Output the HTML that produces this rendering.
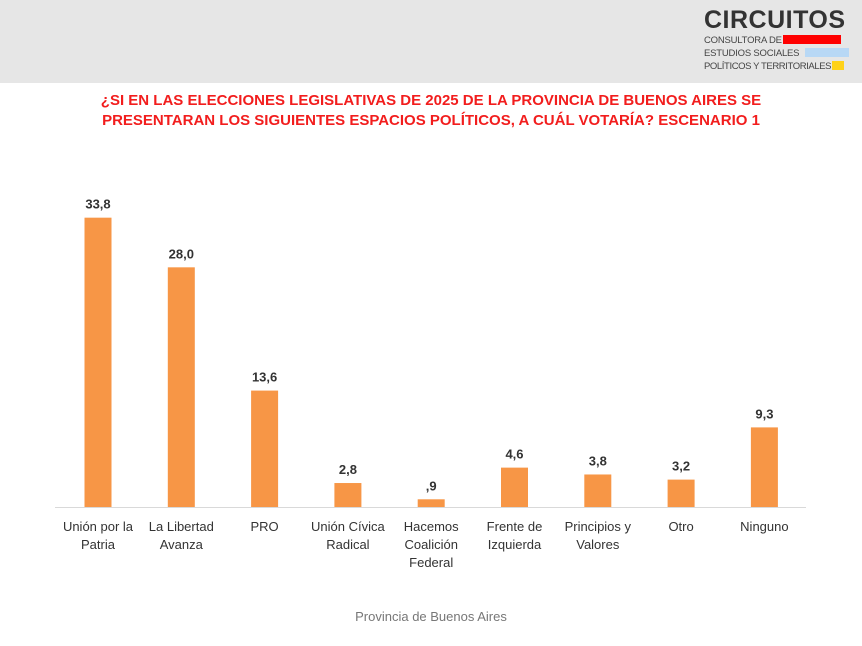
<!DOCTYPE html>
<html><head><meta charset="utf-8"><style>
body{margin:0;width:862px;height:646px;background:#fff;font-family:"Liberation Sans",sans-serif;position:relative;overflow:hidden}
.hdr{position:absolute;left:0;top:0;width:862px;height:83px;background:#e6e6e6}
.title{position:absolute;left:0;width:862px;top:91px;text-align:center;color:#f21d1d;font-size:15px;font-weight:bold;line-height:20px}
</style></head><body>
<div class="hdr">
 <div style="position:absolute;left:704px;top:6px;width:150px;height:72px">
  <div style="font-weight:bold;font-size:25px;color:#333;letter-spacing:0.5px;line-height:28px">CIRCUITOS</div>
  <div style="font-size:9.5px;color:#444;line-height:13px;letter-spacing:-0.2px">CONSULTORA DE<span style="display:inline-block;width:58px;height:9px;background:#f00;margin-left:1px;vertical-align:-1px"></span></div>
  <div style="font-size:9.5px;color:#444;line-height:13px;letter-spacing:-0.2px">ESTUDIOS SOCIALES<span style="display:inline-block;width:44px;height:9px;background:#b8d8f5;margin-left:6px;vertical-align:-1px"></span></div>
  <div style="font-size:9.5px;color:#444;line-height:13px;letter-spacing:-0.4px">POLÍTICOS Y TERRITORIALES<span style="display:inline-block;width:12px;height:9px;background:#ffd21a;margin-left:1px;vertical-align:-1px"></span></div>
 </div>
</div>
<div class="title">¿SI EN LAS ELECCIONES LEGISLATIVAS DE 2025 DE LA PROVINCIA DE BUENOS AIRES SE<br>PRESENTARAN LOS SIGUIENTES ESPACIOS POLÍTICOS, A CUÁL VOTARÍA? ESCENARIO 1</div>
<svg id="chart" width="862" height="646" style="position:absolute;left:0;top:0"></svg>
<script>
const categories=[["Unión por la","Patria"],["La Libertad","Avanza"],["PRO"],["Unión Cívica","Radical"],["Hacemos","Coalición","Federal"],["Frente de","Izquierda"],["Principios y","Valores"],["Otro"],["Ninguno"]];
const values=[33.8,28.0,13.6,2.8,0.9,4.6,3.8,3.2,9.3];
const valueLabels=["33,8","28,0","13,6","2,8",",9","4,6","3,8","3,2","9,3"];
const svg=document.getElementById('chart');const NS="http://www.w3.org/2000/svg";
const base=507,scale=8.56,x0=98,step=83.3,bw=27;
const yPos=v=>base-v*scale;const xPos=i=>x0+i*step;
function mk(t,a){const e=document.createElementNS(NS,t);for(const k in a)e.setAttribute(k,a[k]);svg.appendChild(e);return e;}
const ax=mk('line',{x1:55,x2:806,y1:base+0.5,y2:base+0.5,stroke:'#d9d9d9','stroke-width':1});


values.forEach((v,i)=>{
 const b=mk('rect',{x:xPos(i)-bw/2,y:yPos(v),width:bw,height:base-yPos(v),fill:'#f79646'});
 
 
 const t=mk('text',{x:xPos(i),y:yPos(v)-9,'text-anchor':'middle','font-size':13,'font-weight':'bold',fill:'#333'});
 t.textContent=valueLabels[i];
 
 
 categories[i].forEach((ln,j)=>{
  const c=mk('text',{x:xPos(i),y:531+j*18,'text-anchor':'middle','font-size':13,fill:'#333'});
  c.textContent=ln;
  
  
 });
});
const xt=mk('text',{x:431,y:621,'text-anchor':'middle','font-size':13,fill:'#777'});
xt.textContent="Provincia de Buenos Aires";


</script>
</body></html>
